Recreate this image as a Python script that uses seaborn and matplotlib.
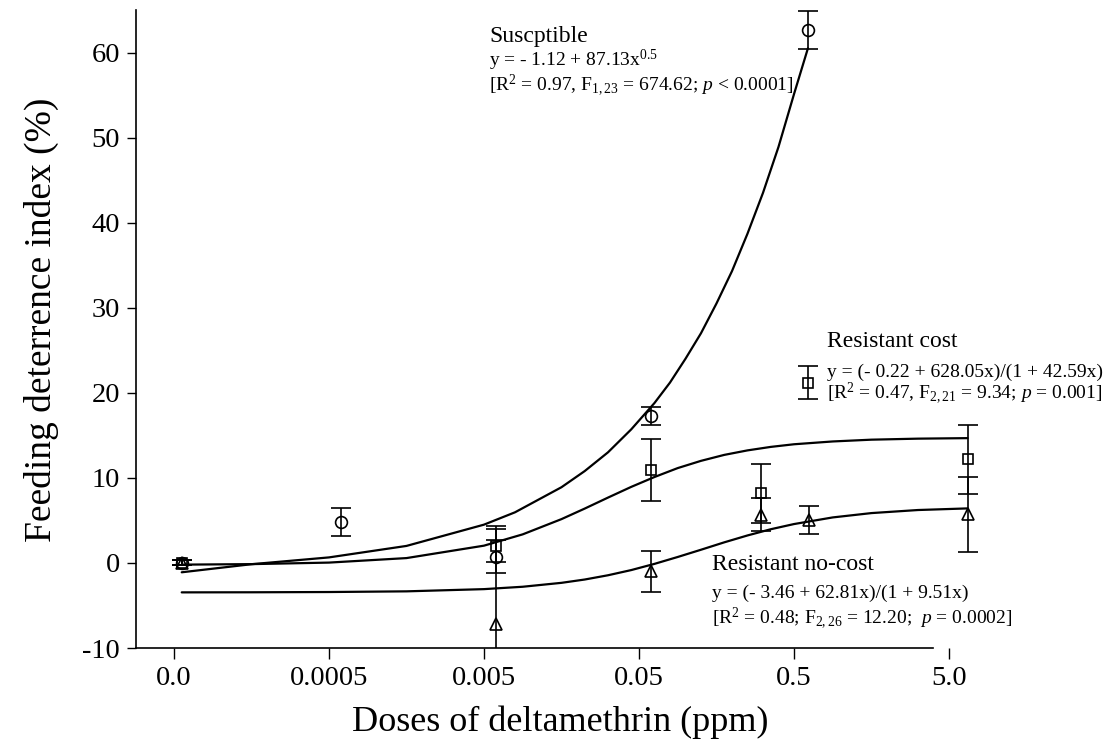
import pandas as pd
import matplotlib
matplotlib.use("Agg")
import matplotlib.pyplot as plt
import seaborn as sns

# x is the position on the dose axis (one unit per tick / decade)
tick_labels = ["0.0", "0.0005", "0.005", "0.05", "0.5", "5.0"]
tick_pos = [0, 1, 2, 3, 4, 5]
y_ticks = [-10, 0, 10, 20, 30, 40, 50, 60]

# mean +/- error
sus_x = [0.05, 1.08, 2.08, 3.08, 4.09]
sus_y = [0.0, 4.8, 0.75, 17.3, 62.65]
sus_err = [0.3, 1.6, 1.95, 1.05, 2.25]

cost_x = [0.05, 2.08, 3.08, 3.79, 4.09, 5.12]
cost_y = [0.0, 2.04, 10.9, 8.2, 21.2, 12.2]
cost_err = [0.3, 1.9, 3.65, 3.45, 1.95, 4.05]

nocost_x = [0.05, 2.08, 3.08, 3.79, 4.10, 5.12]
nocost_y = [0.0, -7.2, -1.0, 5.65, 5.05, 5.7]
nocost_err = [0.3, 11.6, 2.45, 1.95, 1.65, 4.4]

# fitted curves
sus_curve_x = [0.05, 0.5, 1.0, 1.5, 2.0, 2.2, 2.5, 2.65, 2.8, 2.95, 3.1, 3.2, 3.3,
               3.4, 3.5, 3.6, 3.7, 3.8, 3.9, 4.0, 4.09]
sus_curve_y = [-1.1, -0.15, 0.65, 2.0, 4.5, 5.95, 8.9, 10.8, 13.0, 15.7, 18.8, 21.2, 24.0,
               27.0, 30.5, 34.3, 38.7, 43.5, 48.9, 55.1, 60.5]

curve_x = [0.05, 0.5, 1.0, 1.5, 2.0, 2.25, 2.5, 2.65, 2.8, 2.95, 3.1, 3.25, 3.4,
           3.55, 3.7, 3.85, 4.0, 4.25, 4.5, 4.8, 5.12]
cost_curve_y = [-0.2, -0.14, 0.04, 0.57, 2.03, 3.36, 5.15, 6.39, 7.68, 8.94, 10.1, 11.15, 12.0,
                12.7, 13.23, 13.64, 13.95, 14.28, 14.49, 14.61, 14.67]
nocost_curve_y = [-3.46, -3.45, -3.42, -3.34, -3.08, -2.80, -2.34, -1.95, -1.45, -0.84, -0.11, 0.70, 1.55,
                  2.42, 3.23, 3.96, 4.57, 5.35, 5.86, 6.22, 6.41]

sns.set_style("ticks")
plt.rcParams["font.family"] = ["Liberation Serif", "DejaVu Serif"]
plt.rcParams["mathtext.fontset"] = "custom"
plt.rcParams["mathtext.rm"] = "Liberation Serif"
plt.rcParams["mathtext.it"] = "Liberation Serif:italic"
plt.rcParams["axes.unicode_minus"] = False
plt.rcParams["text.color"] = "black"
plt.rcParams["axes.labelcolor"] = "black"

fig = plt.figure(figsize=(11.09, 7.55), dpi=100)
ax = fig.add_axes([136 / 1109, 1 - 648 / 755, 6.245 * 155 / 1109, 638 / 755])

curves = pd.DataFrame({
    "x": sus_curve_x + curve_x + curve_x,
    "y": sus_curve_y + cost_curve_y + nocost_curve_y,
    "group": ["sus"] * len(sus_curve_x) + ["cost"] * len(curve_x) + ["nocost"] * len(curve_x),
})
for g in ["sus", "cost", "nocost"]:
    sns.lineplot(data=curves[curves["group"] == g], x="x", y="y", color="black",
                 linewidth=1.6, ax=ax, sort=False, estimator=None)

for xs, ys, es, m, ms in [(sus_x, sus_y, sus_err, "o", 8.5),
                          (cost_x, cost_y, cost_err, "s", 7.5),
                          (nocost_x, nocost_y, nocost_err, "^", 8.5)]:
    ax.errorbar(xs, ys, yerr=es, fmt=m, ms=ms, mfc="none", mec="black", mew=1.2,
                ecolor="black", elinewidth=1.2, capsize=7, capthick=1.2)

ax.set_xlim(-0.245, 6.0)
ax.set_ylim(-10, 65)
ax.set_xticks(tick_pos)
ax.set_xticklabels(tick_labels)
ax.set_yticks(y_ticks)
ax.tick_params(axis="x", direction="out", length=8, width=1, pad=5, labelsize=20.5, colors="black")
ax.tick_params(axis="y", direction="out", length=6.5, width=1, pad=5, labelsize=20.5, colors="black")
sns.despine(ax=ax)
ax.spines["bottom"].set_bounds(-0.245, 4.9)
for s in ["left", "bottom"]:
    ax.spines[s].set_linewidth(1.2)
    ax.spines[s].set_color("black")

ax.set_xlabel("Doses of deltamethrin (ppm)", fontsize=26)
ax.set_ylabel("Feeding deterrence index (%)", fontsize=27)
ax.xaxis.set_label_coords(0.438, -0.09)
ax.yaxis.set_label_coords(-0.08, 0.515)

ax.text(2.032, 61.2, "Suscptible", fontsize=17, va="baseline")
ax.text(2.032, 58.4, r"y = - 1.12 + 87.13x$^{0.5}$", fontsize=14, va="baseline")
ax.text(2.032, 55.5, r"[R$^2$ = 0.97, F$_{1,23}$ = 674.62; $p$ < 0.0001]", fontsize=14, va="baseline")

ax.text(4.213, 25.38, "Resistant cost", fontsize=17, va="baseline")
ax.text(4.213, 21.9, "y = (- 0.22 + 628.05x)/(1 + 42.59x)", fontsize=14, va="baseline")
ax.text(4.213, 19.3, r"[R$^2$ = 0.47, F$_{2,21}$ = 9.34; $p$ = 0.001]", fontsize=14, va="baseline")

ax.text(3.471, -0.82, "Resistant no-cost", fontsize=17, va="baseline")
ax.text(3.471, -4.15, "y = (- 3.46 + 62.81x)/(1 + 9.51x)", fontsize=14, va="baseline")
ax.text(3.471, -7.1, r"[R$^2$ = 0.48; F$_{2,26}$ = 12.20;  $p$ = 0.0002]", fontsize=14, va="baseline")

fig.savefig("out.png", dpi=100)
